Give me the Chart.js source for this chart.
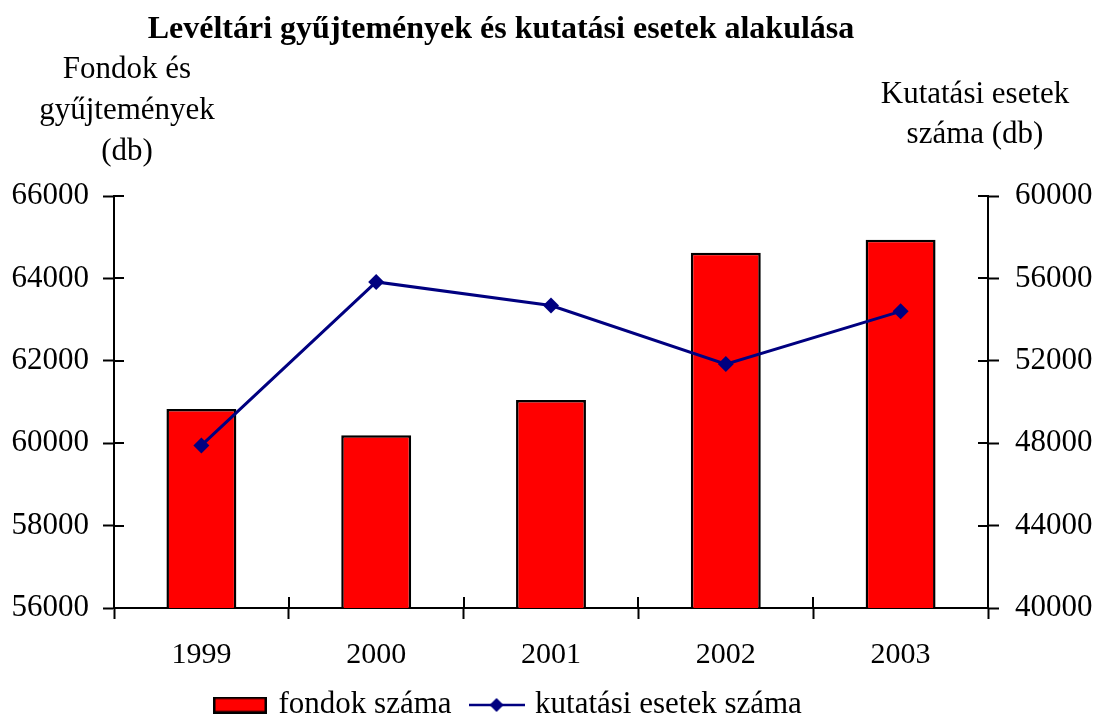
<!DOCTYPE html>
<html><head><meta charset="utf-8">
<script src="https://cdn.jsdelivr.net/npm/chart.js@4.4.1/dist/chart.umd.min.js"></script>
<style>html,body{margin:0;padding:0;background:#fff;overflow:hidden}#wrap{width:1096px;height:718px;position:relative}</style>
</head><body><div id="wrap"><canvas id="c" width="1096" height="718"></canvas></div>
<script>
const years = ['1999', '2000', '2001', '2002', '2003'];
const fondok = [60830, 60190, 61050, 64620, 64940];
const kutatasi = [47890, 55830, 54680, 51840, 54400];
const leftTicks = [56000, 58000, 60000, 62000, 64000, 66000];
const rightTicks = [40000, 44000, 48000, 52000, 56000, 60000];
const chartTitle = 'Levéltári gyűjtemények és kutatási esetek alakulása';
const leftAxisTitle = ['Fondok és', 'gyűjtemények', '(db)'];
const rightAxisTitle = ['Kutatási esetek', 'száma (db)'];
const seriesNames = ['fondok száma', 'kutatási esetek száma'];

const SERIF = '"Liberation Serif", "Times New Roman", serif';
const BAR_COLOR = '#FF0000';
const LINE_COLOR = '#000080';

function makeBarIcon() {
  const c = document.createElement('canvas');
  c.width = 54; c.height = 17;
  const g = c.getContext('2d');
  g.fillStyle = BAR_COLOR; g.fillRect(1, 1, 52, 15);
  g.strokeStyle = '#000'; g.lineWidth = 2.5; g.strokeRect(1.25, 1.25, 51.5, 14.5);
  return c;
}
function makeLineIcon() {
  const c = document.createElement('canvas');
  c.width = 56; c.height = 18;
  const g = c.getContext('2d');
  g.strokeStyle = LINE_COLOR; g.lineWidth = 2.5;
  g.beginPath(); g.moveTo(0, 9); g.lineTo(56, 9); g.stroke();
  g.fillStyle = LINE_COLOR;
  g.beginPath(); g.moveTo(28 - 7, 9); g.lineTo(28, 2); g.lineTo(28 + 7, 9); g.lineTo(28, 16); g.closePath(); g.fill();
  return c;
}
const icons = [makeBarIcon(), makeLineIcon()];

const PLOT = {left: 114, right: 988, top: 196, bottom: 608};
const PAD_BOTTOM = -40;
const LEGEND_FONT = 31;
const LEGEND_PAD = 22;
const LEGEND_X = 217;
const LEGEND_TEXT_Y = 705;

const decor = {
  id: 'decor',
  beforeDraw(chart) {
    const lg = chart.legend;
    if (lg) {
      lg.left = LEGEND_X - LEGEND_PAD;
      lg.right = 1096;
      lg.top = LEGEND_TEXT_Y - LEGEND_FONT / 2 - LEGEND_PAD;
    }
  },
  afterDraw(chart) {
    const ctx = chart.ctx;
    const a = chart.chartArea;
    const sy = chart.scales.y, sy1 = chart.scales.y1, sx = chart.scales.x;
    ctx.save();
    ctx.strokeStyle = '#000';
    ctx.lineWidth = 2;
    ctx.beginPath();
    sy.ticks.forEach(t => {
      const p = Math.round(sy.getPixelForValue(t.value));
      ctx.moveTo(a.left, p); ctx.lineTo(a.left + 10, p);
    });
    sy1.ticks.forEach(t => {
      const p = Math.round(sy1.getPixelForValue(t.value));
      ctx.moveTo(a.right - 10, p); ctx.lineTo(a.right, p);
    });
    for (let i = 0; i <= years.length; i++) {
      const p = Math.round(sx.getPixelForValue(i - 0.5));
      ctx.moveTo(p, a.bottom - 11); ctx.lineTo(p, a.bottom);
    }
    ctx.stroke();

    ctx.fillStyle = '#000';
    ctx.textAlign = 'center';
    ctx.textBaseline = 'alphabetic';
    ctx.font = 'bold 32px ' + SERIF;
    ctx.fillText(chartTitle, 501, 38);
    ctx.font = '31px ' + SERIF;
    leftAxisTitle.forEach((s, i) => ctx.fillText(s, 127, 78 + i * 41));
    rightAxisTitle.forEach((s, i) => ctx.fillText(s, 975, 103 + i * 40));
    ctx.restore();
  }
};

new Chart(document.getElementById('c'), {
  type: 'bar',
  data: {
    labels: years,
    datasets: [
      {
        type: 'bar', label: seriesNames[0], data: fondok, yAxisID: 'y', order: 2,
        backgroundColor: BAR_COLOR, borderColor: '#000', borderWidth: 2.5,
        categoryPercentage: 0.8, barPercentage: 0.5
      },
      {
        type: 'line', label: seriesNames[1], data: kutatasi, yAxisID: 'y1', order: 1,
        borderColor: LINE_COLOR, backgroundColor: LINE_COLOR, borderWidth: 3,
        pointStyle: 'rectRot', pointRadius: 8, pointBorderWidth: 0,
        pointBackgroundColor: LINE_COLOR, tension: 0, fill: false
      }
    ]
  },
  options: {
    responsive: false, animation: false, devicePixelRatio: 1,
    layout: {padding: {left: 0, right: 0, top: PLOT.top, bottom: PAD_BOTTOM}},
    plugins: {
      title: {display: false},
      tooltip: {enabled: false},
      legend: {
        display: true, position: 'bottom', align: 'start',
        labels: {
          usePointStyle: true, pointStyleWidth: 46, boxHeight: 17,
          padding: LEGEND_PAD, color: '#000',
          font: {family: SERIF, size: LEGEND_FONT},
          generateLabels(chart) {
            return chart.data.datasets.map((ds, i) => ({
              text: ds.label, pointStyle: icons[i], datasetIndex: i,
              fillStyle: 'rgba(0,0,0,0)', strokeStyle: 'rgba(0,0,0,0)', lineWidth: 0,
              hidden: false, fontColor: '#000'
            }));
          }
        }
      }
    },
    scales: {
      x: {
        offset: true,
        grid: {display: true, offset: true, drawOnChartArea: false, tickLength: 11, color: '#000', tickWidth: 2},
        border: {display: true, color: '#000', width: 2},
        ticks: {color: '#000', font: {family: SERIF, size: 30}, padding: 18, maxRotation: 0},
        afterFit(s) { s.height = 718 - PLOT.bottom - s.chart.legend.height - PAD_BOTTOM; }
      },
      y: {
        position: 'left', min: leftTicks[0], max: leftTicks[leftTicks.length - 1],
        afterBuildTicks(s) { s.ticks = leftTicks.map(v => ({value: v})); },
        grid: {drawOnChartArea: false, tickLength: 11, color: '#000', tickWidth: 2},
        border: {display: true, color: '#000', width: 2},
        ticks: {color: '#000', font: {family: SERIF, size: 31}, padding: 14, callback: v => String(v)},
        afterFit(s) { s.width = PLOT.left; }
      },
      y1: {
        position: 'right', min: rightTicks[0], max: rightTicks[rightTicks.length - 1],
        afterBuildTicks(s) { s.ticks = rightTicks.map(v => ({value: v})); },
        grid: {drawOnChartArea: false, tickLength: 11, color: '#000', tickWidth: 2},
        border: {display: true, color: '#000', width: 2},
        ticks: {color: '#000', font: {family: SERIF, size: 31}, padding: 16, callback: v => String(v)},
        afterFit(s) { s.width = 1096 - PLOT.right; }
      }
    }
  },
  plugins: [decor]
});
</script>
</body></html>
